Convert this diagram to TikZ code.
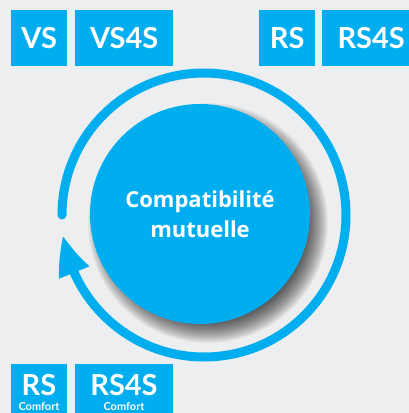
\documentclass[tikz,border=0pt]{standalone}
\usepackage{fontspec}
\setmainfont{Lato}
\newfontfamily\hubfont[Ligatures=NoCommon]{Open Sans}
\usetikzlibrary{arrows.meta,bending}
\definecolor{cyanb}{RGB}{0,174,239}
\definecolor{bgc}{RGB}{237,238,239}
\begin{document}
\begin{tikzpicture}[x=1pt,y=-1pt,
  tag/.style={fill=cyanb, text=white, font=\bfseries\fontsize{29}{29}\selectfont,
    inner sep=0pt, anchor=north west, minimum height=56pt},
  smalltag/.style={text=white, font=\bfseries\fontsize{29}{29}\selectfont, inner sep=0pt, anchor=base},
  comfort/.style={text=white, font=\bfseries\fontsize{11}{11}\selectfont, inner sep=0pt, anchor=base},
  hubstyle/.style={circle, fill=cyanb, minimum size=220pt, inner sep=0pt, text=white,
    align=center, font=\hubfont\bfseries\fontsize{22}{30}\selectfont},
  ring/.style={cyanb, line width=9pt, line cap=round}
]
\useasboundingbox (0,0) rectangle (409,413);
\clip (0,0) rectangle (409,413);
\fill[bgc] (0,0) rectangle (409,413);

% top tags
\node[tag, minimum width=56pt] (vs) at (11,10) {VS};
\node[tag, minimum width=98pt] (vs4s) at (75,10) {VS4S};
\node[tag, minimum width=56pt] (rs) at (259,10) {RS};
\node[tag, minimum width=98pt] (rs4s) at (322,10) {RS4S};

% bottom tags
\node[tag, minimum width=56pt] (rsc) at (11,364) {};
\node[tag, minimum width=98pt] (rs4sc) at (75,364) {};
\node[smalltag] (rsct) at (39,395) {RS};
\node[comfort] (rscc) at (39,410) {Comfort};
\node[smalltag] (rs4sct) at (124,395) {RS4S};
\node[comfort] (rs4scc) at (124,410) {Comfort};

% ring with arrow
\coordinate (c) at (204,215);
\draw[ring, -{Triangle[length=40pt,width=30pt,bend]}]
  (c) ++(180:142) arc[start angle=180, end angle=532, radius=142];

% soft shadow
\foreach \i in {0,...,21}{
  \fill[black, opacity=0.04] (208,223) circle[radius=99+\i];
}
% hub
\node[hubstyle] (hub) at (200,214) {Compatibilité\\mutuelle};
\end{tikzpicture}
\end{document}
